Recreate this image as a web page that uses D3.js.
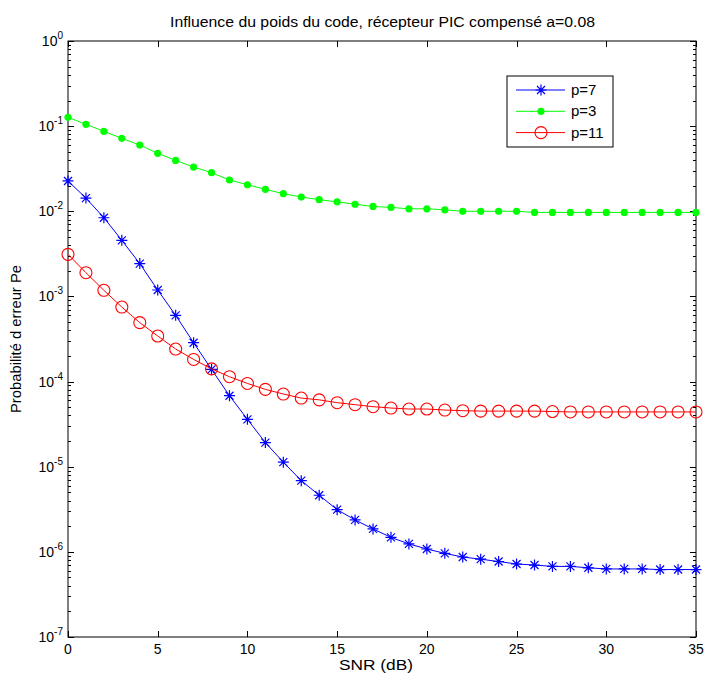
<!DOCTYPE html>
<html><head><meta charset="utf-8">
<script src="https://cdn.jsdelivr.net/npm/d3@7"></script>
<style>body{margin:0;background:#fff;} text{font-family:"Liberation Sans",Arial,sans-serif;}</style>
</head><body><svg id="c" width="704" height="678"></svg>
<script>
const snr = d3.range(0, 36);
const p7 = [0.0227,0.0143,0.0084,0.00456,0.00243,0.00119,0.0006,0.000286,0.000139,6.82e-5,3.6e-5,1.92e-5,1.13e-5,6.86e-6,4.62e-6,3.13e-6,2.37e-6,1.86e-6,1.48e-6,1.24e-6,1.08e-6,9.6e-7,8.7e-7,8.2e-7,7.7e-7,7.2e-7,7.0e-7,6.75e-7,6.75e-7,6.5e-7,6.3e-7,6.3e-7,6.3e-7,6.2e-7,6.2e-7,6.2e-7];
const p3 = [0.127,0.105,0.0869,0.0719,0.0600,0.0480,0.0396,0.0331,0.0284,0.0233,0.0205,0.0181,0.0161,0.0147,0.0137,0.0129,0.0121,0.0114,0.0111,0.0107,0.0107,0.0104,0.0100,0.0100,0.0100,0.0100,0.0097,0.0097,0.0097,0.0097,0.0097,0.0097,0.0097,0.0097,0.0097,0.0097];
const p11 = [0.00312,0.0019,0.00118,0.00075,0.000492,0.000343,0.000241,0.000182,0.000141,0.000114,9.5e-5,8.1e-5,7.14e-5,6.4e-5,6.1e-5,5.65e-5,5.35e-5,5.07e-5,4.89e-5,4.76e-5,4.76e-5,4.63e-5,4.55e-5,4.5e-5,4.5e-5,4.5e-5,4.5e-5,4.45e-5,4.4e-5,4.4e-5,4.4e-5,4.4e-5,4.4e-5,4.4e-5,4.4e-5,4.4e-5];
const xTicks = [0,5,10,15,20,25,30,35];
const yExps = [0,-1,-2,-3,-4,-5,-6,-7];
const title = "Influence du poids du code, récepteur PIC compensé a=0.08";
const xLabel = "SNR (dB)";
const yLabel = "Probabilité d erreur Pe";
const series = [
  {name:"p=7", values:p7, color:"#0000ff", marker:"star"},
  {name:"p=3", values:p3, color:"#00ff00", marker:"dot"},
  {name:"p=11", values:p11, color:"#ff0000", marker:"circle"}
];

const L=68, R=696, T=41, B=637;
const x = d3.scaleLinear().domain([0,35]).range([L,R]);
const y = d3.scaleLog().domain([1e-7,1]).range([B,T]);
const svg = d3.select("#c");

svg.append("rect").attr("x",L).attr("y",T).attr("width",R-L).attr("height",B-T)
  .attr("fill","none").attr("stroke","#000").attr("stroke-width",1);

const g = svg.append("g").attr("stroke","#000").attr("stroke-width",1);
xTicks.forEach(t=>{
  const xp = Math.round(x(t))+0.5;
  g.append("line").attr("x1",xp).attr("x2",xp).attr("y1",B).attr("y2",B-6);
  g.append("line").attr("x1",xp).attr("x2",xp).attr("y1",T).attr("y2",T+6);
});
for (let e=-7;e<=0;e++){
  const yp = Math.round(y(Math.pow(10,e)))+0.5;
  g.append("line").attr("x1",L).attr("x2",L+6).attr("y1",yp).attr("y2",yp);
  g.append("line").attr("x1",R).attr("x2",R-6).attr("y1",yp).attr("y2",yp);
  if (e<0){
    for (let m=2;m<=9;m++){
      const yy = Math.round(y(m*Math.pow(10,e)))+0.5;
      g.append("line").attr("x1",L).attr("x2",L+3).attr("y1",yy).attr("y2",yy);
      g.append("line").attr("x1",R).attr("x2",R-3).attr("y1",yy).attr("y2",yy);
    }
  }
}
svg.append("g").selectAll("text").data(xTicks).join("text")
  .attr("x",d=>x(d)).attr("y",B+17).attr("text-anchor","middle")
  .attr("font-size",14).attr("fill","#000").text(d=>d);
yExps.forEach(e=>{
  const t = svg.append("text").attr("x",L-5).attr("y",y(Math.pow(10,e))+5)
    .attr("text-anchor","end").attr("font-size",14).attr("fill","#000");
  t.append("tspan").text("10");
  t.append("tspan").attr("dy",-7).attr("font-size",10).text(e);
});

const line = d3.line().x((d,i)=>x(snr[i])).y(d=>y(d));
function drawMarker(sel, type, color){
  if (type==="star"){
    const s=5.5, d=4;
    sel.append("path").attr("d",`M${-s},0H${s}M0,${-s}V${s}M${-d},${-d}L${d},${d}M${-d},${d}L${d},${-d}`)
      .attr("stroke",color).attr("stroke-width",1.2).attr("fill","none");
  } else if (type==="dot"){
    sel.append("circle").attr("r",3.6).attr("fill",color);
  } else {
    sel.append("circle").attr("r",6).attr("fill","none").attr("stroke",color).attr("stroke-width",1.1);
  }
}
series.forEach(s=>{
  svg.append("path").datum(s.values).attr("d",line).attr("fill","none")
    .attr("stroke",s.color).attr("stroke-width",1);
  s.values.forEach((v,i)=>{
    const mg = svg.append("g").attr("transform",`translate(${x(snr[i])},${y(v)})`);
    drawMarker(mg, s.marker, s.color);
  });
});

const lg = svg.append("g");
lg.append("rect").attr("x",507).attr("y",76).attr("width",106).attr("height",71)
  .attr("fill","#fff").attr("stroke","#000").attr("stroke-width",1);
series.forEach((s,k)=>{
  const yy = 90 + k*21.3;
  lg.append("line").attr("x1",516).attr("x2",565).attr("y1",yy).attr("y2",yy).attr("stroke",s.color);
  drawMarker(lg.append("g").attr("transform",`translate(541,${yy})`), s.marker, s.color);
  lg.append("text").attr("x",571).attr("y",yy+5).attr("font-size",15).attr("fill","#000").text(s.name);
});

svg.append("text").attr("x",382.5).attr("y",27).attr("text-anchor","middle")
  .attr("font-size",14).attr("textLength",425).attr("lengthAdjust","spacingAndGlyphs")
  .attr("fill","#000").text(title);
svg.append("text").attr("x",376).attr("y",670).attr("text-anchor","middle")
  .attr("font-size",14).attr("textLength",74).attr("lengthAdjust","spacingAndGlyphs")
  .attr("fill","#000").text(xLabel);
svg.append("text").attr("transform",`translate(21,${(T+B)/2}) rotate(-90)`).attr("text-anchor","middle")
  .attr("font-size",14).attr("textLength",148).attr("lengthAdjust","spacingAndGlyphs")
  .attr("fill","#000").text(yLabel);
</script></body></html>
